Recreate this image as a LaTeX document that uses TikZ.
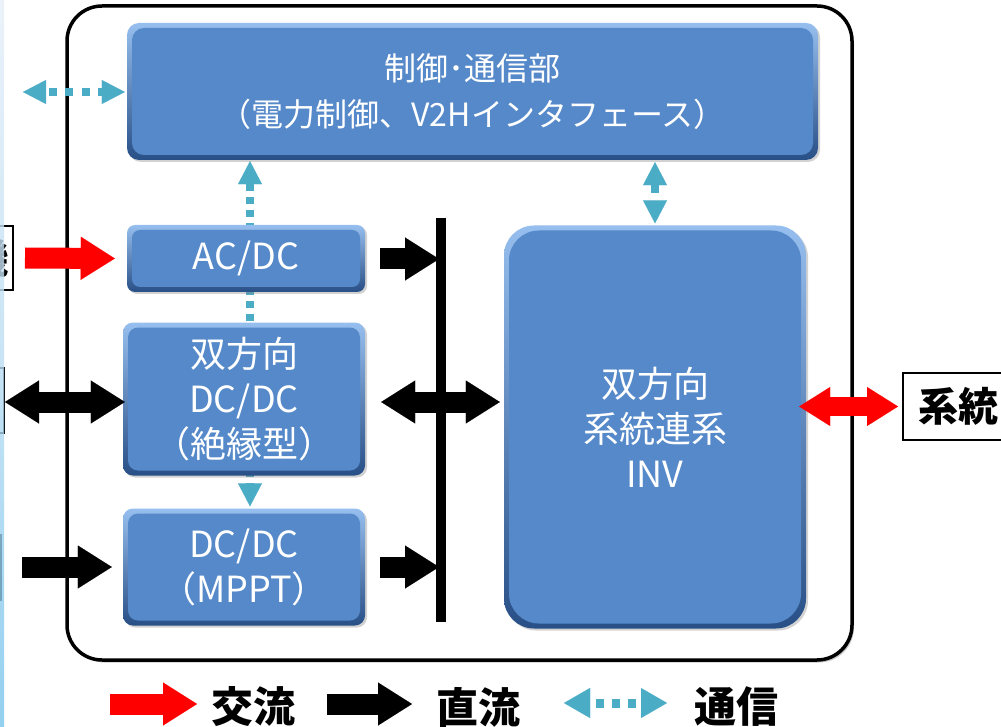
\documentclass[tikz,border=0pt]{standalone}
\usepackage{fontspec}
\newfontfamily\jp{Noto Sans CJK JP}
\usetikzlibrary{arrows.meta,calc,shadows}
\definecolor{boxblue}{RGB}{85,137,201}
\definecolor{bevtop}{RGB}{150,190,238}
\definecolor{bevbot}{RGB}{40,80,135}
\definecolor{commc}{RGB}{75,172,198}
\definecolor{acred}{RGB}{255,0,0}
\definecolor{stripA}{RGB}{230,238,248}
\definecolor{stripB}{RGB}{120,196,235}
\pgfdeclarelayer{back}
\pgfdeclarelayer{bg}
\pgfsetlayers{back,bg,main}
\begin{document}
\begin{tikzpicture}[x=1pt,y=-1pt,
  blk/.style={rounded corners=#1, top color=bevtop, bottom color=bevbot, text=white,
    align=center, inner sep=0pt,
    drop shadow={opacity=0.35,shadow xshift=2pt,shadow yshift=-2pt},
    path picture={\fill[boxblue, rounded corners=#1]
      ($(path picture bounding box.south west)+(5,-5)$) rectangle
      ($(path picture bounding box.north east)+(-5,5)$);}},
  bigtxt/.style={font=\jp\fontsize{36}{45}\selectfont},
  sysbox/.style={draw, line width=2pt, fill=white, inner sep=4pt,
    font=\jp\bfseries\fontsize{40}{40}\selectfont},
  legtxt/.style={anchor=west, inner sep=0pt, font=\jp\bfseries\fontsize{42}{42}\selectfont},
  dcarrow/.style={draw=black, line width=21pt,
    -{Triangle[width=43pt,length=34pt,line width=0.01pt]}},
  dcdouble/.style={draw=black, line width=21pt,
    {Triangle[width=43pt,length=34pt,line width=0.01pt]}-{Triangle[width=43pt,length=34pt,line width=0.01pt]}},
  acarrow/.style={draw=acred, line width=21pt,
    -{Triangle[width=43pt,length=34pt,line width=0.01pt]}},
  acdouble/.style={draw=acred, line width=19pt,
    {Triangle[width=39pt,length=31pt,line width=0.01pt]}-{Triangle[width=39pt,length=31pt,line width=0.01pt]}},
  comm/.style={draw=commc, line width=8pt, dash pattern=on 7pt off 6pt,
    {Triangle[width=24pt,length=23pt,line width=0.01pt]}-{Triangle[width=24pt,length=23pt,line width=0.01pt]}},
]
\useasboundingbox (0,0) rectangle (1001,727);

% outer frame
\begin{pgfonlayer}{back}
\node[draw, line width=3.5pt, fill=white, rounded corners=35pt,
  minimum width=785pt, minimum height=654pt,
  drop shadow={opacity=0.45,shadow xshift=2pt,shadow yshift=-2.5pt}] (frame) at (459.5,333) {};
\end{pgfonlayer}

% external boxes (cut at the left edge)
\node[sysbox, anchor=east, minimum height=64pt] (gen) at (14,258) {発電機};
\node[sysbox, anchor=east, minimum height=65pt, minimum width=100pt] (bat) at (5,400) {};
\node[sysbox, anchor=east, minimum height=65pt, minimum width=100pt] (pv) at (2,567) {};
\node[sysbox, anchor=west, minimum height=67pt, minimum width=110pt] (grid) at (902,406.5) {系統};
\shade[top color=stripA, bottom color=stripB, middle color=stripA!60!stripB, opacity=0.8] (0,0) rectangle (4,727);

% blocks
\node[blk=12pt, minimum width=691pt, minimum height=137pt,
  font=\jp\fontsize{32}{46}\selectfont] (ctrl) at (472.5,91.5)
  {制御･通信部\\（電力制御、V2Hインタフェース）};
\node[blk=8pt, bigtxt, minimum width=238pt, minimum height=67pt] (acdc) at (246,258.5) {AC/DC};
\node[blk=10pt, bigtxt, minimum width=242pt, minimum height=153pt] (dcdc) at (244,399) {双方向\\DC/DC\\（絶縁型）};
\node[blk=10pt, bigtxt, minimum width=242pt, minimum height=117pt] (mppt) at (244,567) {DC/DC\\（MPPT）};
\node[blk=30pt, bigtxt, minimum width=302pt, minimum height=403pt] (inv) at (655,427) {双方向\\系統連系\\INV};

% DC bus
\coordinate (bustop) at (441,218);
\coordinate (busbot) at (441,622);
\draw[line width=10pt] (bustop) -- (busbot);

% power arrows
\coordinate (r2) at (0,402);
\coordinate (r3) at (0,406.5);
\draw[dcarrow] ($(acdc.east)+(15,0.5)$) -- ($(acdc.east -| bustop)+(-2,0.5)$);
\draw[dcdouble] ($(dcdc.east |- r2)+(16,0)$) -- ($(inv.west |- r2)+(-4,0)$);
\draw[dcarrow] ($(mppt.east)+(15,0)$) -- ($(mppt.east -| bustop)+(-2,0)$);
\draw[acarrow] ($(gen.east)+(11,0)$) -- ($(acdc.west)+(-12,0)$);
\draw[dcdouble] (bat.east |- r2) -- ($(dcdc.west |- r2)+(2,0)$);
\draw[dcarrow] ($(pv.east)+(20,0)$) -- ($(mppt.west)+(-11,0)$);
\draw[acdouble] ($(inv.east |- r3)+(-7,0)$) -- ($(grid.west)+(-4,0)$);

% communication arrows
\coordinate (cv) at (250,0);
\coordinate (cl) at (23,92);
\begin{pgfonlayer}{bg}
\draw[comm] ($(ctrl.south -| cv)+(0,1)$) -- ($(mppt.north -| cv)+(0,-2)$);
\end{pgfonlayer}
\draw[comm, dash pattern=on 8pt off 12pt] ($(ctrl.south -| inv.north)+(0,2)$) -- ($(inv.north)+(0,-2)$);
\draw[comm, dash pattern=on 8pt off 8.5pt, dash phase=13.5pt] (cl) -- ($(ctrl.west)+(-2,0.5)$);

% legend
\coordinate (la1) at (110,704);
\coordinate (la2) at (197,704);
\coordinate (lb1) at (327,704);
\coordinate (lb2) at (412,704);
\coordinate (lc1) at (564,703);
\coordinate (lc2) at (667,703);
\draw[acarrow] (la1) -- (la2);
\node[legtxt] (lgac) at (211,707) {交流};
\draw[dcarrow] (lb1) -- (lb2);
\node[legtxt] (lgdc) at (436,707) {直流};
\draw[comm, line width=9pt, dash pattern=on 8pt off 8pt, dash phase=10pt,
  {Triangle[width=30pt,length=26pt,line width=0.01pt]}-{Triangle[width=30pt,length=26pt,line width=0.01pt]}] (lc1) -- (lc2);
\node[legtxt] (lgcm) at (694,707) {通信};
\end{tikzpicture}
\end{document}
